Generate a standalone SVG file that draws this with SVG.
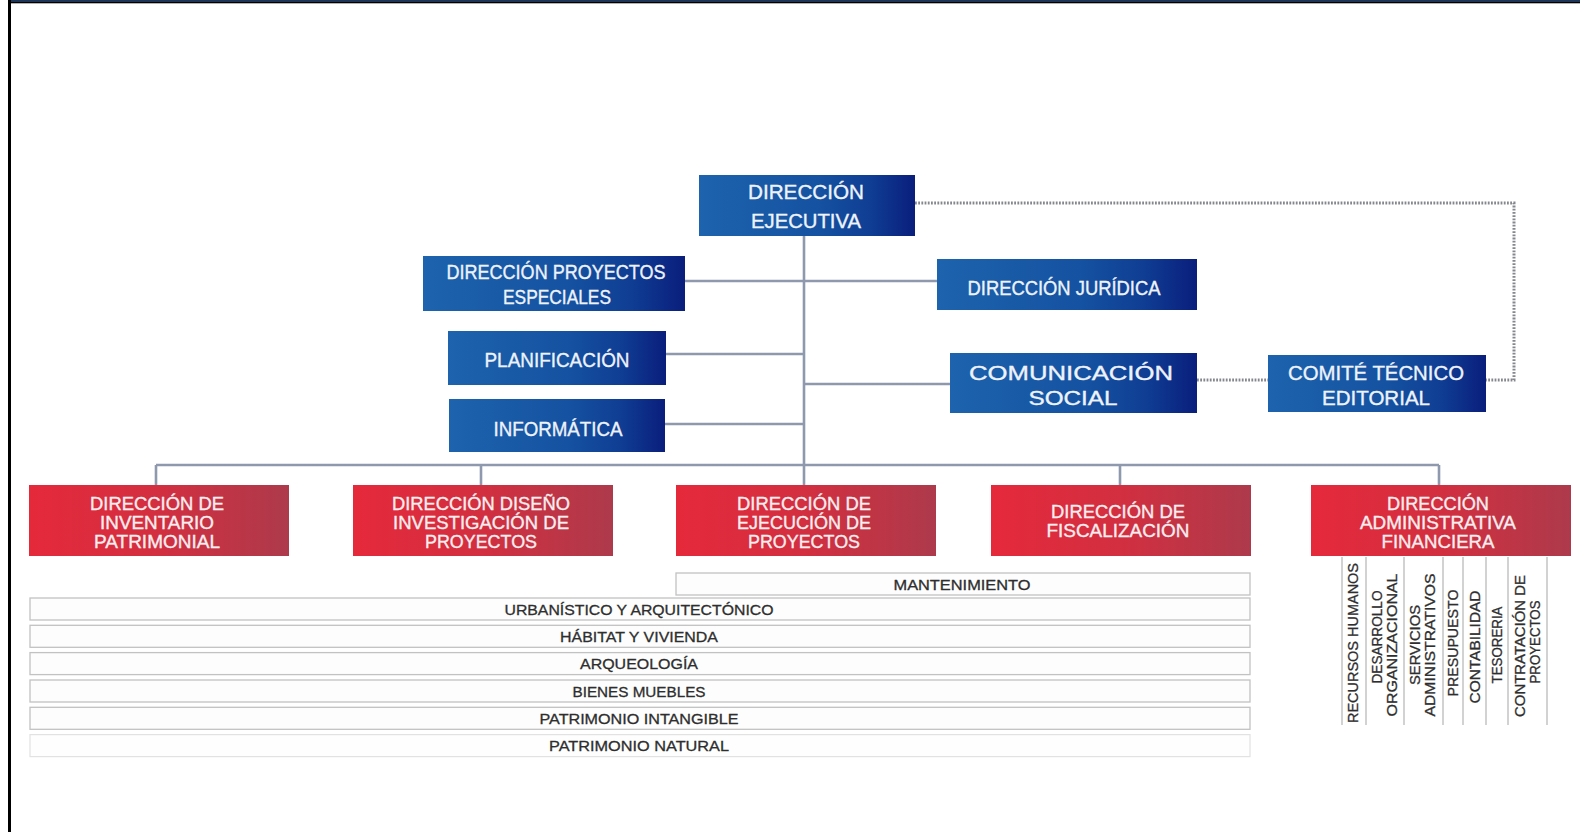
<svg xmlns="http://www.w3.org/2000/svg" width="1580" height="832" viewBox="0 0 1580 832">
<defs>
<linearGradient id="gBlue" x1="0" y1="0" x2="1" y2="0">
<stop offset="0" stop-color="#1d63ad"/>
<stop offset="0.55" stop-color="#1552a1"/>
<stop offset="0.8" stop-color="#0f3d93"/>
<stop offset="1" stop-color="#0a1e7c"/>
</linearGradient>
<linearGradient id="gRed" x1="0" y1="0" x2="1" y2="0">
<stop offset="0" stop-color="#e5293b"/>
<stop offset="0.5" stop-color="#d22f40"/>
<stop offset="1" stop-color="#ad3a4b"/>
</linearGradient>
<style>
.blue{fill:url(#gBlue)}
.red{fill:url(#gRed)}
.bt{font-family:"Liberation Sans",Arial,sans-serif;font-size:20px;fill:#eef3fb;stroke:#eef3fb;stroke-width:0.35;text-anchor:middle}
.rt{font-family:"Liberation Sans",Arial,sans-serif;font-size:19px;fill:#fbeef0;stroke:#fbeef0;stroke-width:0.35;text-anchor:middle}
.gt{font-family:"Liberation Sans",Arial,sans-serif;font-size:15px;fill:#2e2e2e;stroke:#2e2e2e;stroke-width:0.3;text-anchor:middle}
.bar{fill:#fdfdfd;stroke:#c2c2c2;stroke-width:1.3}
.bar2{fill:#fefefe;stroke:#e2e2e2;stroke-width:1.2}
.ln{fill:none;stroke:#8e99ae;stroke-width:2.6}
.dot{fill:none;stroke:#85878d;stroke-width:3;stroke-dasharray:1.8 1.4}
.div{stroke:#c4c4c4;stroke-width:1.5}
</style>
</defs>
<rect x="0" y="0" width="1580" height="832" fill="#ffffff"/>
<rect x="10" y="0" width="1570" height="2" fill="#1d3557"/>
<rect x="10" y="2" width="1570" height="1.3" fill="#000"/>
<rect x="8" y="0" width="3" height="832" fill="#000"/>

<g id="connectors">
<path class="ln" d="M804 236V485"/>
<path class="ln" d="M685 281H937"/>
<path class="ln" d="M666 354H804"/>
<path class="ln" d="M665 424H804"/>
<path class="ln" d="M804 384H950"/>
<path class="ln" d="M156 465H1439"/>
<path class="ln" d="M156 465V485M481 465V485M1120 465V485M1439 465V485"/>
<path class="dot" d="M915 203H1514V380H1486"/>
<path class="dot" d="M1197 380H1268"/>
</g>

<g id="direccion-ejecutiva">
<rect class="blue" x="699" y="175" width="216" height="61"/>
<text class="bt" x="806" y="199" textLength="116" lengthAdjust="spacingAndGlyphs">DIRECCIÓN</text>
<text class="bt" x="806" y="228" textLength="110" lengthAdjust="spacingAndGlyphs">EJECUTIVA</text>
</g>
<g id="proyectos-especiales">
<rect class="blue" x="423" y="256" width="262" height="55"/>
<text class="bt" x="556" y="279" textLength="219" lengthAdjust="spacingAndGlyphs">DIRECCIÓN PROYECTOS</text>
<text class="bt" x="557" y="304" textLength="108" lengthAdjust="spacingAndGlyphs">ESPECIALES</text>
</g>
<g id="planificacion">
<rect class="blue" x="448" y="331" width="218" height="54"/>
<text class="bt" x="557" y="367" textLength="145" lengthAdjust="spacingAndGlyphs">PLANIFICACIÓN</text>
</g>
<g id="informatica">
<rect class="blue" x="449" y="399" width="216" height="53"/>
<text class="bt" x="558" y="436" textLength="129" lengthAdjust="spacingAndGlyphs">INFORMÁTICA</text>
</g>
<g id="direccion-juridica">
<rect class="blue" x="937" y="259" width="260" height="51"/>
<text class="bt" x="1064" y="295" textLength="193" lengthAdjust="spacingAndGlyphs">DIRECCIÓN JURÍDICA</text>
</g>
<g id="comunicacion-social">
<rect class="blue" x="950" y="353" width="247" height="60"/>
<text class="bt" x="1071" y="380" textLength="204" lengthAdjust="spacingAndGlyphs">COMUNICACIÓN</text>
<text class="bt" x="1073" y="405" textLength="89" lengthAdjust="spacingAndGlyphs">SOCIAL</text>
</g>
<g id="comite-tecnico-editorial">
<rect class="blue" x="1268" y="355" width="218" height="57"/>
<text class="bt" x="1376" y="380" textLength="176" lengthAdjust="spacingAndGlyphs">COMITÉ TÉCNICO</text>
<text class="bt" x="1376" y="405" textLength="108" lengthAdjust="spacingAndGlyphs">EDITORIAL</text>
</g>

<g id="inventario-patrimonial">
<rect class="red" x="29" y="485" width="260" height="71"/>
<text class="rt" x="157" y="510" textLength="134" lengthAdjust="spacingAndGlyphs">DIRECCIÓN DE</text>
<text class="rt" x="157" y="529" textLength="114" lengthAdjust="spacingAndGlyphs">INVENTARIO</text>
<text class="rt" x="157" y="548" textLength="126" lengthAdjust="spacingAndGlyphs">PATRIMONIAL</text>
</g>
<g id="diseno-investigacion">
<rect class="red" x="353" y="485" width="260" height="71"/>
<text class="rt" x="481" y="510" textLength="178" lengthAdjust="spacingAndGlyphs">DIRECCIÓN DISEÑO</text>
<text class="rt" x="481" y="529" textLength="176" lengthAdjust="spacingAndGlyphs">INVESTIGACIÓN DE</text>
<text class="rt" x="481" y="548" textLength="112" lengthAdjust="spacingAndGlyphs">PROYECTOS</text>
</g>
<g id="ejecucion-proyectos">
<rect class="red" x="676" y="485" width="260" height="71"/>
<text class="rt" x="804" y="510" textLength="134" lengthAdjust="spacingAndGlyphs">DIRECCIÓN DE</text>
<text class="rt" x="804" y="529" textLength="134" lengthAdjust="spacingAndGlyphs">EJECUCIÓN DE</text>
<text class="rt" x="804" y="548" textLength="112" lengthAdjust="spacingAndGlyphs">PROYECTOS</text>
</g>
<g id="fiscalizacion">
<rect class="red" x="991" y="485" width="260" height="71"/>
<text class="rt" x="1118" y="518" textLength="134" lengthAdjust="spacingAndGlyphs">DIRECCIÓN DE</text>
<text class="rt" x="1118" y="537" textLength="143" lengthAdjust="spacingAndGlyphs">FISCALIZACIÓN</text>
</g>
<g id="administrativa-financiera">
<rect class="red" x="1311" y="485" width="260" height="71"/>
<text class="rt" x="1438" y="510" textLength="102" lengthAdjust="spacingAndGlyphs">DIRECCIÓN</text>
<text class="rt" x="1438" y="529" textLength="156" lengthAdjust="spacingAndGlyphs">ADMINISTRATIVA</text>
<text class="rt" x="1438" y="548" textLength="113" lengthAdjust="spacingAndGlyphs">FINANCIERA</text>
</g>

<g id="areas">
<g id="mantenimiento"><rect class="bar" x="676" y="573" width="574" height="22"/>
<text class="gt" x="962" y="590" textLength="137" lengthAdjust="spacingAndGlyphs">MANTENIMIENTO</text></g>
<g id="urbanistico"><rect class="bar" x="30" y="598" width="1220" height="22"/>
<text class="gt" x="639" y="614.5" textLength="269" lengthAdjust="spacingAndGlyphs">URBANÍSTICO Y ARQUITECTÓNICO</text></g>
<g id="habitat"><rect class="bar" x="30" y="625.3" width="1220" height="22"/>
<text class="gt" x="639" y="642" textLength="158" lengthAdjust="spacingAndGlyphs">HÁBITAT Y VIVIENDA</text></g>
<g id="arqueologia"><rect class="bar" x="30" y="652.6" width="1220" height="22"/>
<text class="gt" x="639" y="669" textLength="118" lengthAdjust="spacingAndGlyphs">ARQUEOLOGÍA</text></g>
<g id="bienes-muebles"><rect class="bar" x="30" y="680" width="1220" height="22"/>
<text class="gt" x="639" y="696.5" textLength="133" lengthAdjust="spacingAndGlyphs">BIENES MUEBLES</text></g>
<g id="patrimonio-intangible"><rect class="bar" x="30" y="707.3" width="1220" height="22"/>
<text class="gt" x="639" y="724" textLength="199" lengthAdjust="spacingAndGlyphs">PATRIMONIO INTANGIBLE</text></g>
<g id="patrimonio-natural"><rect class="bar2" x="30" y="734.6" width="1220" height="22"/>
<text class="gt" x="639" y="751" textLength="180" lengthAdjust="spacingAndGlyphs">PATRIMONIO NATURAL</text></g>
</g>

<g id="admin-units">
<path class="div" d="M1342 557V725M1366 557V725M1404 557V725M1443 557V725M1463 557V725M1486 557V725M1508 557V725M1547 557V725"/>
<text class="gt" transform="translate(1353 643) rotate(-90)" x="0" y="5.3" textLength="160" lengthAdjust="spacingAndGlyphs">RECURSOS HUMANOS</text>
<text class="gt" transform="translate(1377 637) rotate(-90)" x="0" y="5.3" textLength="93" lengthAdjust="spacingAndGlyphs">DESARROLLO</text>
<text class="gt" transform="translate(1392 645) rotate(-90)" x="0" y="5.3" textLength="143" lengthAdjust="spacingAndGlyphs">ORGANIZACIONAL</text>
<text class="gt" transform="translate(1415 645) rotate(-90)" x="0" y="5.3" textLength="80" lengthAdjust="spacingAndGlyphs">SERVICIOS</text>
<text class="gt" transform="translate(1430 645) rotate(-90)" x="0" y="5.3" textLength="143" lengthAdjust="spacingAndGlyphs">ADMINISTRATIVOS</text>
<text class="gt" transform="translate(1453 643) rotate(-90)" x="0" y="5.3" textLength="107" lengthAdjust="spacingAndGlyphs">PRESUPUESTO</text>
<text class="gt" transform="translate(1475 647) rotate(-90)" x="0" y="5.3" textLength="113" lengthAdjust="spacingAndGlyphs">CONTABILIDAD</text>
<text class="gt" transform="translate(1497 645) rotate(-90)" x="0" y="5.3" textLength="77" lengthAdjust="spacingAndGlyphs">TESORERIA</text>
<text class="gt" transform="translate(1520 646) rotate(-90)" x="0" y="5.3" textLength="142" lengthAdjust="spacingAndGlyphs">CONTRATACIÓN DE</text>
<text class="gt" transform="translate(1535 642) rotate(-90)" x="0" y="5.3" textLength="83" lengthAdjust="spacingAndGlyphs">PROYECTOS</text>
</g>
</svg>
